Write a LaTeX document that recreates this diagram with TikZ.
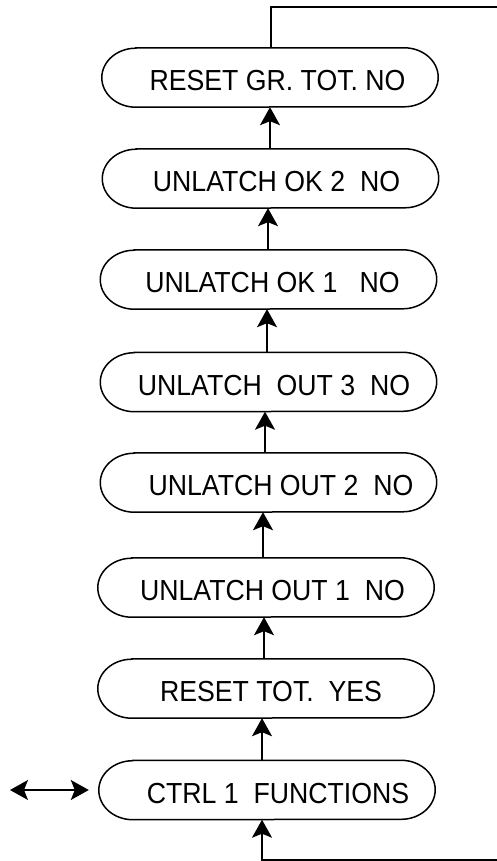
\documentclass[tikz,border=0pt]{standalone}
\usepackage{fontspec}
\setmainfont{Liberation Sans}[FakeStretch=0.92]
\usetikzlibrary{arrows.meta}
\begin{document}
\begin{tikzpicture}[x=1pt,y=-1pt,
  stadium/.style={rectangle, minimum width=336pt, minimum height=59pt, inner sep=0pt},
  outline/.style={line width=1.5pt},
  caption/.style={font=\fontsize{29}{34}\selectfont, inner sep=0pt, yshift=-3.5pt},
  flow/.style={line width=1.5pt, -{Stealth[length=18pt,width=20pt,inset=4pt]}},
  both/.style={line width=1.5pt, {Stealth[length=18pt,width=20pt,inset=4pt]}-{Stealth[length=18pt,width=20pt,inset=4pt]}},
  link/.style={line width=1.5pt}]
\useasboundingbox (0,0) rectangle (497,861);

% menu entries, top to bottom
\node[stadium, label={[caption, xshift=7.5pt]center:RESET GR. TOT. NO}] (n1) at (270,77.5) {};
\node[stadium, label={[caption, xshift=6pt]center:UNLATCH OK 2\ \ NO}] (n2) at (270.5,178.5) {};
\node[stadium, label={[caption, xshift=4pt]center:UNLATCH OK 1\ \ \ NO}] (n3) at (268.5,279.5) {};
\node[stadium, label={[caption, xshift=5.5pt]center:UNLATCH\ \ OUT 3\ \ NO}] (n4) at (268.5,382) {};
\node[stadium, label={[caption, xshift=12.5pt]center:UNLATCH OUT 2\ \ NO}] (n5) at (268.5,482.5) {};
\node[stadium, label={[caption, xshift=6.5pt]center:UNLATCH OUT 1\ \ NO}] (n6) at (266,587.5) {};
\node[stadium, label={[caption, xshift=5pt]center:RESET TOT.\ \ YES}] (n7) at (266,688.5) {};
\node[stadium, label={[caption, xshift=11pt]center:CTRL 1\ \ FUNCTIONS}] (n8) at (267,790) {};

% outlines with elliptical ends
\foreach \n in {n1,n2,n3,n4,n5,n6,n7,n8}
  \draw[outline] ([xshift=34pt]\n.north west) -- ([xshift=-34pt]\n.north east)
    arc[start angle=90, end angle=-90, x radius=34pt, y radius=29.5pt]
    -- ([xshift=34pt]\n.south west)
    arc[start angle=270, end angle=90, x radius=34pt, y radius=29.5pt] -- cycle;

% upward chain
\draw[flow] ([xshift=-0.5pt]n2.north) -- (n1.south);
\draw[flow] ([xshift=-0.5pt]n3.north) -- ([xshift=-2.5pt]n2.south);
\draw[flow] ([xshift=-1.5pt]n4.north) -- ([xshift=-1.5pt]n3.south);
\draw[flow] ([xshift=-3.5pt]n5.north) -- ([xshift=-3.5pt]n4.south);
\draw[flow] ([xshift=-3pt]n6.north) -- ([xshift=-5.5pt]n5.south);
\draw[flow] ([xshift=-2pt]n7.north) -- ([xshift=-2pt]n6.south);
\draw[flow] ([xshift=-5pt]n8.north) -- ([xshift=-4pt]n7.south);

% loop-back lines leaving the page
\coordinate (topR) at (497,7);
\coordinate (botR) at (497,860);
\draw[link] ([xshift=1pt]n1.north) |- (topR);
\draw[flow] (botR) -| ([xshift=-5pt]n8.south);

% side exchange
\coordinate (sideL) at (10,790);
\draw[both] (sideL) -- ([xshift=-10pt]n8.west);
\end{tikzpicture}
\end{document}
